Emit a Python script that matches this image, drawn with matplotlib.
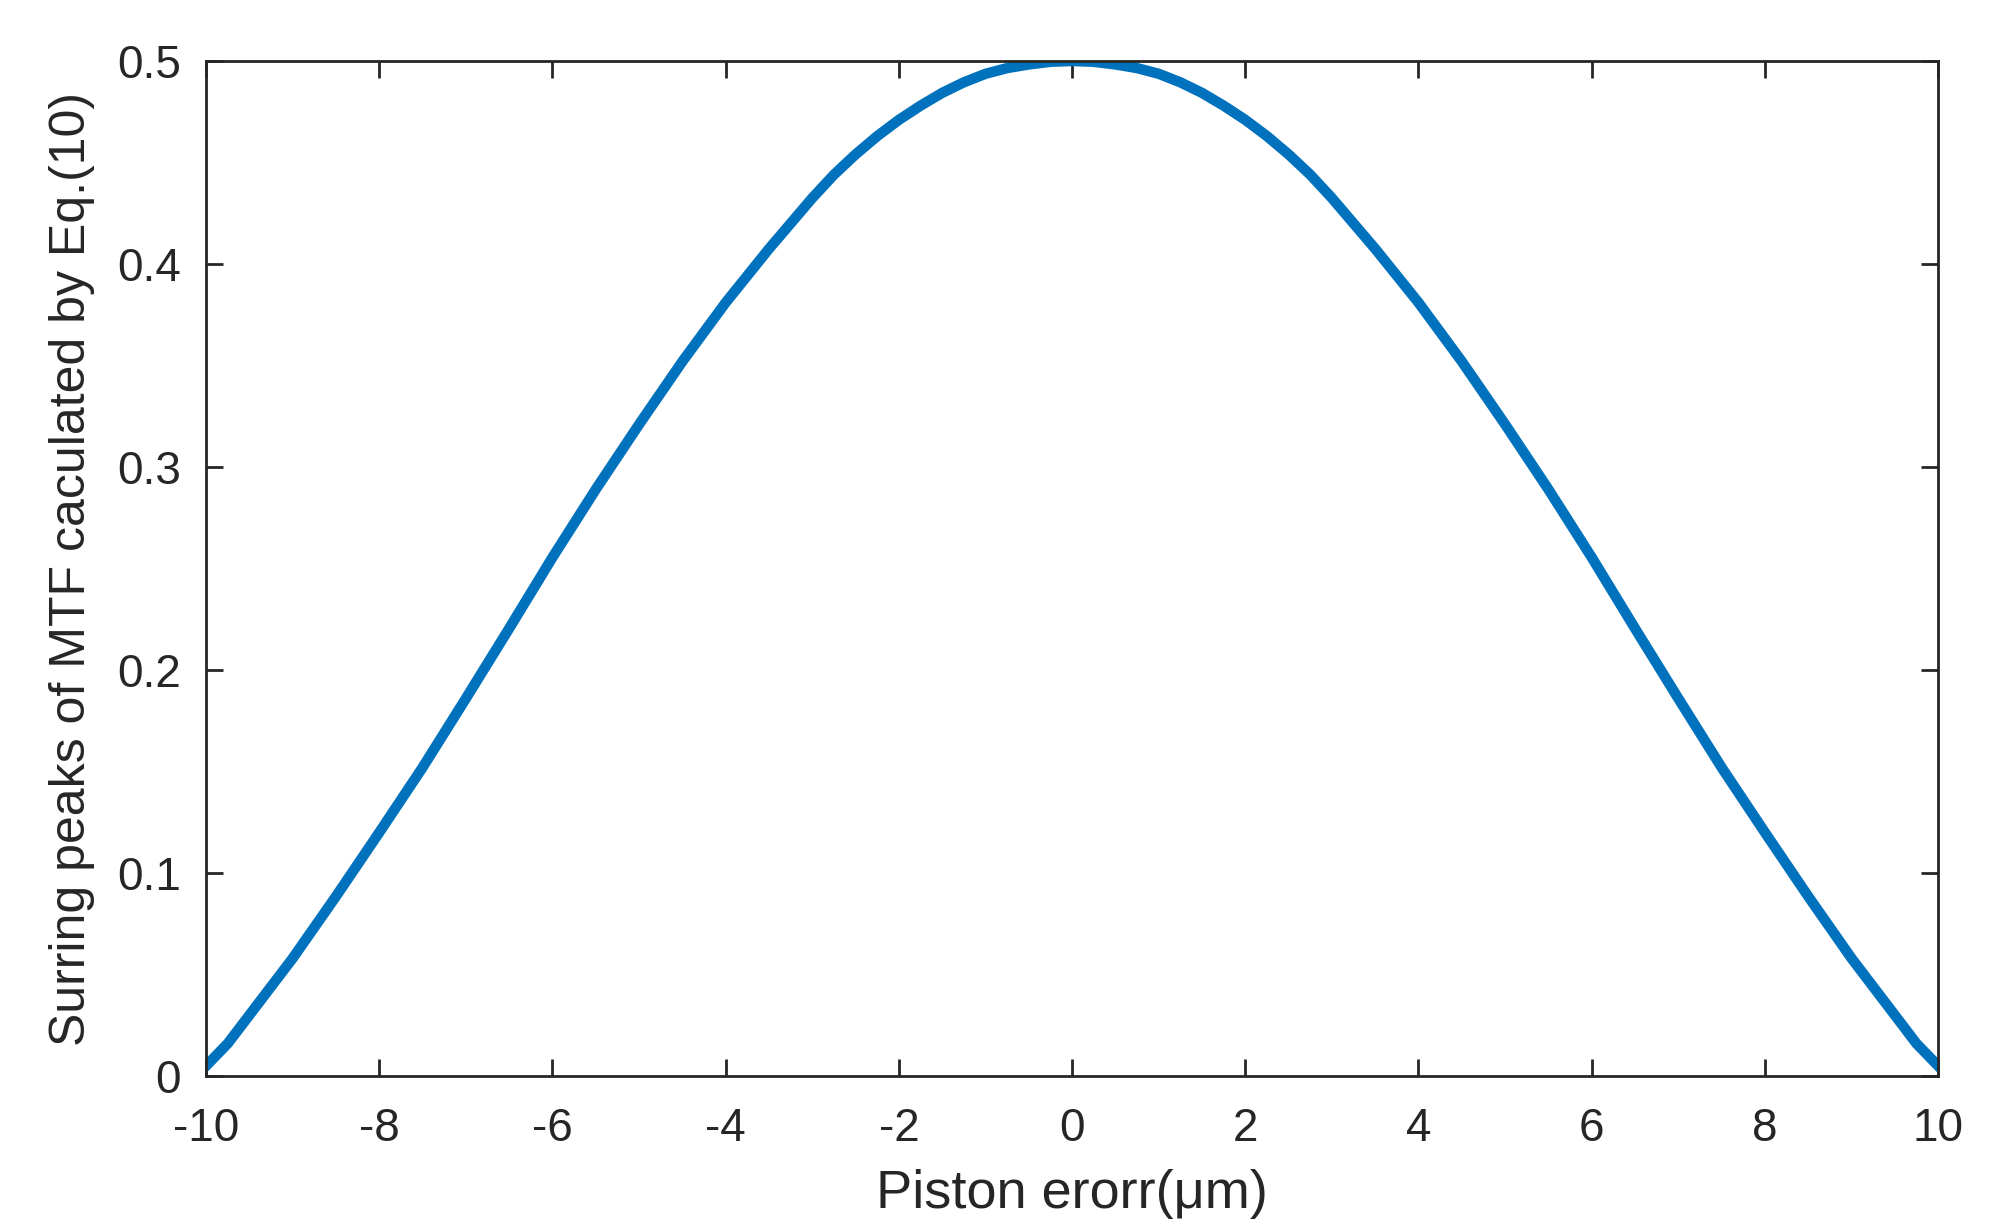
import numpy as np
import matplotlib
matplotlib.use("Agg")
from matplotlib import pyplot as plt
from matplotlib.ticker import FuncFormatter

# values (curve is symmetric about 0)
x_half = [-10, -9.75, -9.5, -9.25, -9, -8.5, -8, -7.5, -7, -6.5, -6, -5.5, -5,
          -4.5, -4, -3.5, -3, -2.75, -2.5, -2.25, -2, -1.75, -1.5, -1.25, -1,
          -0.75, -0.5, -0.25, 0]
y_half = [0.005, 0.016, 0.030, 0.044, 0.058, 0.0885, 0.120, 0.152, 0.186,
          0.2205, 0.2555, 0.289, 0.321, 0.352, 0.381, 0.4075, 0.4325, 0.444,
          0.454, 0.463, 0.471, 0.478, 0.4843, 0.4895, 0.4937, 0.4965, 0.4983,
          0.4996, 0.500]

piston = x_half + [-v for v in x_half[-2::-1]]
peaks = y_half + y_half[-2::-1]

x_ticks = [-10, -8, -6, -4, -2, 0, 2, 4, 6, 8, 10]
y_ticks = [0, 0.1, 0.2, 0.3, 0.4, 0.5]

plt.rcParams['font.family'] = ['Liberation Sans', 'DejaVu Sans']
plt.rcParams['axes.unicode_minus'] = False

fig = plt.figure(figsize=(19.97, 12.30), dpi=100)
ax = fig.add_axes([0.1032, 0.1252, 0.9705 - 0.1032, 0.9504 - 0.1252])

ax.plot(piston, peaks, color='#0072BD', lw=7.5)

ax.set_xlim(-10, 10)
ax.set_ylim(0, 0.5)
ax.set_xticks(x_ticks)
ax.set_yticks(y_ticks)
ax.yaxis.set_major_formatter(FuncFormatter(lambda v, p: f"{v:g}"))
ax.tick_params(direction='in', length=12, width=2, top=True, right=True,
               labelsize=33, colors='#262626')
ax.tick_params(axis='x', pad=22)
ax.tick_params(axis='y', pad=18)
for s in ax.spines.values():
    s.set_linewidth(2)
    s.set_color('#262626')

ax.set_xlabel('Piston erorr(μm)', fontsize=39, color='#262626', labelpad=13)
ax.set_ylabel('Surring peaks of MTF caculated by Eq.(10)', fontsize=36,
              color='#262626', labelpad=16)

fig.savefig('out.png', dpi=100)
